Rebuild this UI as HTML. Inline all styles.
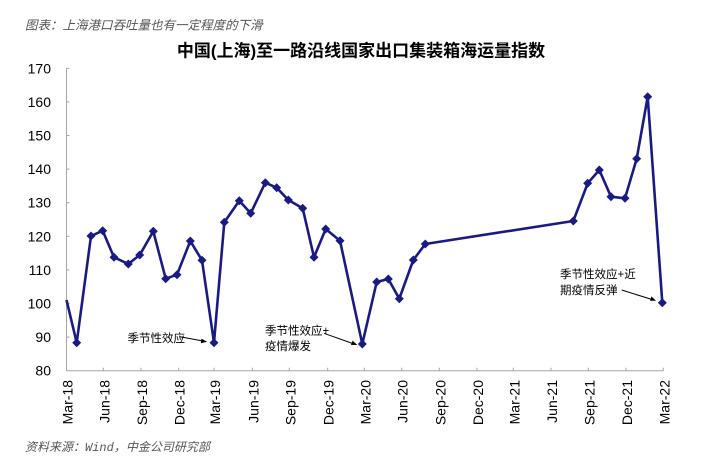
<!DOCTYPE html>
<html>
<head>
<meta charset="utf-8">
<style>
  html, body { margin:0; padding:0; background:#fff; }
  body { width:711px; height:470px; overflow:hidden; }
  svg { display:block; }
</style>
</head>
<body>
<svg width="711" height="470" viewBox="0 0 711 470" xmlns="http://www.w3.org/2000/svg">
  <rect width="711" height="470" fill="#fff"/>
  <!-- subtitle -->
  <text x="25" y="29.5" font-family="'Liberation Sans','Noto Sans CJK SC',sans-serif" font-size="12.5" font-style="italic" fill="#555">图表：上海港口吞吐量也有一定程度的下滑</text>
  <!-- title -->
  <text x="361" y="56.5" text-anchor="middle" font-family="'Liberation Sans','Noto Sans CJK SC',sans-serif" font-size="17" font-weight="bold" fill="#000">中国(上海)至一路沿线国家出口集装箱海运量指数</text>

  <!-- axes -->
  <g stroke="#a6a6a6" stroke-width="1" fill="none">
    <line x1="66.5" y1="68" x2="66.5" y2="371"/>
    <line x1="66.5" y1="370.7" x2="663.5" y2="370.7"/>
    <!-- y ticks -->
    <line x1="66.5" y1="68.3" x2="69.5" y2="68.3"/>
    <line x1="66.5" y1="101.9" x2="69.5" y2="101.9"/>
    <line x1="66.5" y1="135.5" x2="69.5" y2="135.5"/>
    <line x1="66.5" y1="169.1" x2="69.5" y2="169.1"/>
    <line x1="66.5" y1="202.7" x2="69.5" y2="202.7"/>
    <line x1="66.5" y1="236.3" x2="69.5" y2="236.3"/>
    <line x1="66.5" y1="269.9" x2="69.5" y2="269.9"/>
    <line x1="66.5" y1="303.5" x2="69.5" y2="303.5"/>
    <line x1="66.5" y1="337.1" x2="69.5" y2="337.1"/>
    <!-- x ticks -->
    <line x1="103.3" y1="370.7" x2="103.3" y2="367.7"/>
    <line x1="141" y1="370.7" x2="141" y2="367.7"/>
    <line x1="178.7" y1="370.7" x2="178.7" y2="367.7"/>
    <line x1="214" y1="370.7" x2="214" y2="367.7"/>
    <line x1="252.3" y1="370.7" x2="252.3" y2="367.7"/>
    <line x1="289.3" y1="370.7" x2="289.3" y2="367.7"/>
    <line x1="327.7" y1="370.7" x2="327.7" y2="367.7"/>
    <line x1="364.3" y1="370.7" x2="364.3" y2="367.7"/>
    <line x1="401.7" y1="370.7" x2="401.7" y2="367.7"/>
    <line x1="439.3" y1="370.7" x2="439.3" y2="367.7"/>
    <line x1="477" y1="370.7" x2="477" y2="367.7"/>
    <line x1="513.3" y1="370.7" x2="513.3" y2="367.7"/>
    <line x1="551" y1="370.7" x2="551" y2="367.7"/>
    <line x1="588.3" y1="370.7" x2="588.3" y2="367.7"/>
    <line x1="626" y1="370.7" x2="626" y2="367.7"/>
    <line x1="663.3" y1="370.7" x2="663.3" y2="367.7"/>
  </g>

  <!-- y labels -->
  <g font-family="'Liberation Sans',sans-serif" font-size="14" fill="#000" text-anchor="end" dominant-baseline="central">
    <text x="51" y="68.3">170</text>
    <text x="51" y="101.9">160</text>
    <text x="51" y="135.5">150</text>
    <text x="51" y="169.1">140</text>
    <text x="51" y="202.7">130</text>
    <text x="51" y="236.3">120</text>
    <text x="51" y="269.9">110</text>
    <text x="51" y="303.5">100</text>
    <text x="51" y="337.1">90</text>
    <text x="51" y="370.7">80</text>
  </g>

  <!-- x labels -->
  <g font-family="'Liberation Sans',sans-serif" font-size="14" fill="#000" text-anchor="end" dominant-baseline="central">
    <text transform="translate(67.5,380) rotate(-90)">Mar-18</text>
    <text transform="translate(104.3,380) rotate(-90)">Jun-18</text>
    <text transform="translate(142,380) rotate(-90)">Sep-18</text>
    <text transform="translate(179.7,380) rotate(-90)">Dec-18</text>
    <text transform="translate(215,380) rotate(-90)">Mar-19</text>
    <text transform="translate(253.3,380) rotate(-90)">Jun-19</text>
    <text transform="translate(290.3,380) rotate(-90)">Sep-19</text>
    <text transform="translate(328.7,380) rotate(-90)">Dec-19</text>
    <text transform="translate(365.3,380) rotate(-90)">Mar-20</text>
    <text transform="translate(402.7,380) rotate(-90)">Jun-20</text>
    <text transform="translate(440.3,380) rotate(-90)">Sep-20</text>
    <text transform="translate(478,380) rotate(-90)">Dec-20</text>
    <text transform="translate(514.3,380) rotate(-90)">Mar-21</text>
    <text transform="translate(552,380) rotate(-90)">Jun-21</text>
    <text transform="translate(589.3,380) rotate(-90)">Sep-21</text>
    <text transform="translate(627,380) rotate(-90)">Dec-21</text>
    <text transform="translate(664.3,380) rotate(-90)">Mar-22</text>
  </g>

  <!-- series -->
  <polyline fill="none" stroke="#1a1a85" stroke-width="2.6" stroke-linejoin="round"
    points="66.5,300 76.7,342.7 91,236 102.7,230.7 114,257.3 128.3,264 139.7,255 153.3,231.3 165.7,278.7 177,274.7 190.3,241 202,260.3 214,342.7 224.3,222.3 239.3,200.7 250.7,213.3 265.3,182.7 276.7,187.7 288.3,200 302.7,208.3 314,257.3 325.7,229 340,240.7 362.3,344 376.7,282 388.3,279 399.3,298.7 413.3,260 425.3,244 573.3,221 587.7,183.3 599.3,170 611,196.7 625,198.3 636.7,158.7 647.7,96.7 662.3,302.7"/>
  <g fill="#1a1a85">
    <path id="d" d="M0,-4.5 L4.5,0 L0,4.5 L-4.5,0 Z" transform="translate(76.7,342.7)"/>
    <path d="M0,-4.5 L4.5,0 L0,4.5 L-4.5,0 Z" transform="translate(91,236)"/>
    <path d="M0,-4.5 L4.5,0 L0,4.5 L-4.5,0 Z" transform="translate(102.7,230.7)"/>
    <path d="M0,-4.5 L4.5,0 L0,4.5 L-4.5,0 Z" transform="translate(114,257.3)"/>
    <path d="M0,-4.5 L4.5,0 L0,4.5 L-4.5,0 Z" transform="translate(128.3,264)"/>
    <path d="M0,-4.5 L4.5,0 L0,4.5 L-4.5,0 Z" transform="translate(139.7,255)"/>
    <path d="M0,-4.5 L4.5,0 L0,4.5 L-4.5,0 Z" transform="translate(153.3,231.3)"/>
    <path d="M0,-4.5 L4.5,0 L0,4.5 L-4.5,0 Z" transform="translate(165.7,278.7)"/>
    <path d="M0,-4.5 L4.5,0 L0,4.5 L-4.5,0 Z" transform="translate(177,274.7)"/>
    <path d="M0,-4.5 L4.5,0 L0,4.5 L-4.5,0 Z" transform="translate(190.3,241)"/>
    <path d="M0,-4.5 L4.5,0 L0,4.5 L-4.5,0 Z" transform="translate(202,260.3)"/>
    <path d="M0,-4.5 L4.5,0 L0,4.5 L-4.5,0 Z" transform="translate(214,342.7)"/>
    <path d="M0,-4.5 L4.5,0 L0,4.5 L-4.5,0 Z" transform="translate(224.3,222.3)"/>
    <path d="M0,-4.5 L4.5,0 L0,4.5 L-4.5,0 Z" transform="translate(239.3,200.7)"/>
    <path d="M0,-4.5 L4.5,0 L0,4.5 L-4.5,0 Z" transform="translate(250.7,213.3)"/>
    <path d="M0,-4.5 L4.5,0 L0,4.5 L-4.5,0 Z" transform="translate(265.3,182.7)"/>
    <path d="M0,-4.5 L4.5,0 L0,4.5 L-4.5,0 Z" transform="translate(276.7,187.7)"/>
    <path d="M0,-4.5 L4.5,0 L0,4.5 L-4.5,0 Z" transform="translate(288.3,200)"/>
    <path d="M0,-4.5 L4.5,0 L0,4.5 L-4.5,0 Z" transform="translate(302.7,208.3)"/>
    <path d="M0,-4.5 L4.5,0 L0,4.5 L-4.5,0 Z" transform="translate(314,257.3)"/>
    <path d="M0,-4.5 L4.5,0 L0,4.5 L-4.5,0 Z" transform="translate(325.7,229)"/>
    <path d="M0,-4.5 L4.5,0 L0,4.5 L-4.5,0 Z" transform="translate(340,240.7)"/>
    <path d="M0,-4.5 L4.5,0 L0,4.5 L-4.5,0 Z" transform="translate(362.3,344)"/>
    <path d="M0,-4.5 L4.5,0 L0,4.5 L-4.5,0 Z" transform="translate(376.7,282)"/>
    <path d="M0,-4.5 L4.5,0 L0,4.5 L-4.5,0 Z" transform="translate(388.3,279)"/>
    <path d="M0,-4.5 L4.5,0 L0,4.5 L-4.5,0 Z" transform="translate(399.3,298.7)"/>
    <path d="M0,-4.5 L4.5,0 L0,4.5 L-4.5,0 Z" transform="translate(413.3,260)"/>
    <path d="M0,-4.5 L4.5,0 L0,4.5 L-4.5,0 Z" transform="translate(425.3,244)"/>
    <path d="M0,-4.5 L4.5,0 L0,4.5 L-4.5,0 Z" transform="translate(573.3,221)"/>
    <path d="M0,-4.5 L4.5,0 L0,4.5 L-4.5,0 Z" transform="translate(587.7,183.3)"/>
    <path d="M0,-4.5 L4.5,0 L0,4.5 L-4.5,0 Z" transform="translate(599.3,170)"/>
    <path d="M0,-4.5 L4.5,0 L0,4.5 L-4.5,0 Z" transform="translate(611,196.7)"/>
    <path d="M0,-4.5 L4.5,0 L0,4.5 L-4.5,0 Z" transform="translate(625,198.3)"/>
    <path d="M0,-4.5 L4.5,0 L0,4.5 L-4.5,0 Z" transform="translate(636.7,158.7)"/>
    <path d="M0,-4.5 L4.5,0 L0,4.5 L-4.5,0 Z" transform="translate(647.7,96.7)"/>
    <path d="M0,-4.5 L4.5,0 L0,4.5 L-4.5,0 Z" transform="translate(662.3,302.7)"/>
  </g>

  <!-- annotations -->
  <g font-family="'Liberation Sans','Noto Sans CJK SC',sans-serif" font-size="11.5" fill="#000" dominant-baseline="central">
    <text x="127.5" y="339">季节性效应</text>
    <text x="265" y="331.5">季节性效应+</text>
    <text x="265" y="347">疫情爆发</text>
    <text x="560" y="275">季节性效应+近</text>
    <text x="560" y="291">期疫情反弹</text>
  </g>
  <g stroke="#000" stroke-width="1" fill="#000">
    <line x1="180" y1="336.7" x2="203" y2="341"/>
    <path d="M207,341.8 L201.5,338.6 L200.8,343.2 Z" stroke="none"/>
    <line x1="324" y1="333.3" x2="353" y2="343.6"/>
    <path d="M357.3,345 L352.6,340.6 L351,345 Z" stroke="none"/>
    <line x1="621.7" y1="290" x2="652" y2="299.5"/>
    <path d="M656,300.7 L651.5,296.4 L650,300.8 Z" stroke="none"/>
  </g>

  <!-- source -->
  <text x="25" y="451" font-family="'Liberation Sans','Noto Sans CJK SC',sans-serif" font-size="12" font-style="italic" fill="#555">资料来源：<tspan font-family="'Liberation Mono',monospace">Wind</tspan>，中金公司研究部</text>
</svg>
</body>
</html>
